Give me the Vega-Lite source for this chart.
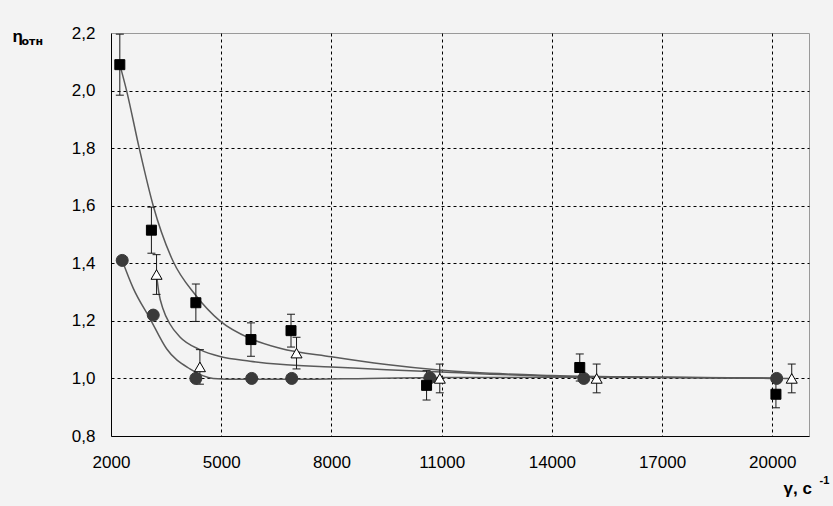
{
  "$schema": "https://vega.github.io/schema/vega-lite/v6.json",
  "width": 698,
  "height": 403,
  "autosize": {"type": "none"},
  "padding": {"left": 111, "top": 33, "right": 24, "bottom": 70},
  "background": "#f3f3f3",
  "config": {
    "view": {"stroke": "#999999", "strokeWidth": 1, "fill": "#f3f3f3"},
    "font": "Liberation Sans"
  },
  "datasets": {
    "curves": [
      {"s": "A", "g": 2240, "v": 2.09},
      {"s": "A", "g": 2424, "v": 2.0},
      {"s": "A", "g": 2768, "v": 1.8},
      {"s": "A", "g": 3149, "v": 1.6},
      {"s": "A", "g": 3693, "v": 1.406},
      {"s": "A", "g": 4300, "v": 1.29},
      {"s": "A", "g": 4965, "v": 1.2},
      {"s": "A", "g": 5800, "v": 1.138},
      {"s": "A", "g": 6600, "v": 1.105},
      {"s": "A", "g": 8000, "v": 1.075},
      {"s": "A", "g": 9500, "v": 1.048},
      {"s": "A", "g": 11000, "v": 1.028},
      {"s": "A", "g": 14000, "v": 1.01},
      {"s": "A", "g": 17000, "v": 1.004},
      {"s": "A", "g": 20100, "v": 1.001},
      {"s": "B", "g": 3240, "v": 1.36},
      {"s": "B", "g": 3300, "v": 1.3},
      {"s": "B", "g": 3420, "v": 1.24},
      {"s": "B", "g": 3600, "v": 1.19},
      {"s": "B", "g": 3876, "v": 1.144},
      {"s": "B", "g": 4420, "v": 1.1},
      {"s": "B", "g": 4967, "v": 1.076},
      {"s": "B", "g": 5785, "v": 1.06},
      {"s": "B", "g": 6600, "v": 1.049},
      {"s": "B", "g": 8000, "v": 1.04},
      {"s": "B", "g": 9500, "v": 1.03},
      {"s": "B", "g": 11000, "v": 1.022},
      {"s": "B", "g": 14000, "v": 1.008},
      {"s": "B", "g": 17000, "v": 1.004},
      {"s": "B", "g": 20530, "v": 1.0},
      {"s": "C", "g": 2305, "v": 1.41},
      {"s": "C", "g": 2607, "v": 1.313},
      {"s": "C", "g": 3061, "v": 1.208},
      {"s": "C", "g": 3513, "v": 1.103},
      {"s": "C", "g": 4148, "v": 1.033},
      {"s": "C", "g": 4783, "v": 1.0},
      {"s": "C", "g": 5500, "v": 0.997},
      {"s": "C", "g": 7000, "v": 0.997},
      {"s": "C", "g": 9000, "v": 1.0},
      {"s": "C", "g": 11000, "v": 1.003},
      {"s": "C", "g": 14000, "v": 1.004},
      {"s": "C", "g": 17000, "v": 1.003},
      {"s": "C", "g": 20120, "v": 1.0}
    ],
    "points": [
      {"s": "C", "g": 2305, "v": 1.41},
      {"s": "C", "g": 3150, "v": 1.22},
      {"s": "C", "g": 4310, "v": 1.0},
      {"s": "C", "g": 5830, "v": 1.0},
      {"s": "C", "g": 6920, "v": 1.0},
      {"s": "C", "g": 10680, "v": 1.002},
      {"s": "C", "g": 14870, "v": 1.0},
      {"s": "C", "g": 20120, "v": 1.0},
      {"s": "A", "g": 2240, "v": 2.09, "lo": 1.984, "hi": 2.196},
      {"s": "A", "g": 3100, "v": 1.515, "lo": 1.435, "hi": 1.595},
      {"s": "A", "g": 4310, "v": 1.263, "lo": 1.198, "hi": 1.328},
      {"s": "A", "g": 5810, "v": 1.135, "lo": 1.077, "hi": 1.193},
      {"s": "A", "g": 6900, "v": 1.166, "lo": 1.109, "hi": 1.223},
      {"s": "A", "g": 10590, "v": 0.976, "lo": 0.925, "hi": 1.027},
      {"s": "A", "g": 14760, "v": 1.038, "lo": 0.991, "hi": 1.085},
      {"s": "A", "g": 20100, "v": 0.945, "lo": 0.898, "hi": 0.992},
      {"s": "B", "g": 3240, "v": 1.361, "lo": 1.292, "hi": 1.43},
      {"s": "B", "g": 4420, "v": 1.04, "lo": 0.98, "hi": 1.1},
      {"s": "B", "g": 7050, "v": 1.088, "lo": 1.033, "hi": 1.143},
      {"s": "B", "g": 10950, "v": 1.0, "lo": 0.95, "hi": 1.05},
      {"s": "B", "g": 15220, "v": 1.0, "lo": 0.95, "hi": 1.05},
      {"s": "B", "g": 20530, "v": 1.0, "lo": 0.95, "hi": 1.05}
    ]
  },
  "layer": [
    {
      "data": {"name": "curves"},
      "mark": {"type": "line", "interpolate": "monotone", "stroke": "#5a5a5a", "strokeWidth": 1.5},
      "encoding": {
        "x": {
          "field": "g", "type": "quantitative",
          "scale": {"domain": [2000, 21000], "nice": false, "zero": false},
          "axis": {
            "orient": "bottom", "values": [5000, 8000, 11000, 14000, 17000, 20000],
            "grid": true, "gridColor": "#000000", "gridDash": [3, 3], "gridWidth": 1, "gridOpacity": 1,
            "labels": false, "ticks": false, "domain": false,
            "title": "γ, с", "titleX": 672, "titleY": 57, "titleAlign": "left", "titleBaseline": "alphabetic",
            "titleFontSize": 17, "titleFontWeight": "bold", "titleColor": "#000000", "titleFont": "Liberation Sans"
          }
        },
        "y": {
          "field": "v", "type": "quantitative",
          "scale": {"domain": [0.8, 2.2], "nice": false, "zero": false},
          "axis": {
            "orient": "left", "values": [1.0, 1.2, 1.4, 1.6, 1.8, 2.0],
            "grid": true, "gridColor": "#000000", "gridDash": [3, 3], "gridWidth": 1, "gridOpacity": 1,
            "labels": false, "ticks": false, "domain": false,
            "title": "η", "titleAngle": 0, "titleX": -99, "titleY": 8, "titleAlign": "left", "titleBaseline": "alphabetic",
            "titleFontSize": 17, "titleFontWeight": "bold", "titleColor": "#000000", "titleFont": "Liberation Sans"
          }
        },
        "detail": {"field": "s"}
      }
    },
    {
      "data": {"name": "points"},
      "mark": {"type": "rule", "color": "#1a1a1a", "strokeWidth": 1},
      "encoding": {
        "x": {"field": "g", "type": "quantitative", "scale": {"domain": [2000, 21000], "nice": false, "zero": false}, "axis": null},
        "y": {"field": "lo", "type": "quantitative", "scale": {"domain": [0.8, 2.2], "nice": false, "zero": false}, "axis": null},
        "y2": {"field": "hi"}
      }
    },
    {
      "data": {"name": "points"},
      "mark": {"type": "tick", "orient": "horizontal", "size": 8, "thickness": 1, "color": "#1a1a1a", "opacity": 1},
      "encoding": {
        "x": {"field": "g", "type": "quantitative", "scale": {"domain": [2000, 21000], "nice": false, "zero": false}, "axis": null},
        "y": {"field": "lo", "type": "quantitative", "scale": {"domain": [0.8, 2.2], "nice": false, "zero": false}, "axis": null}
      }
    },
    {
      "data": {"name": "points"},
      "mark": {"type": "tick", "orient": "horizontal", "size": 8, "thickness": 1, "color": "#1a1a1a", "opacity": 1},
      "encoding": {
        "x": {"field": "g", "type": "quantitative", "scale": {"domain": [2000, 21000], "nice": false, "zero": false}, "axis": null},
        "y": {"field": "hi", "type": "quantitative", "scale": {"domain": [0.8, 2.2], "nice": false, "zero": false}, "axis": null}
      }
    },
    {
      "data": {"name": "points"},
      "mark": {"type": "point", "filled": true, "strokeWidth": 1, "opacity": 1},
      "encoding": {
        "x": {
          "field": "g", "type": "quantitative",
          "scale": {"domain": [2000, 21000], "nice": false, "zero": false},
          "axis": {
            "orient": "bottom", "values": [2000, 5000, 8000, 11000, 14000, 17000, 20000],
            "format": "d",
            "grid": false, "ticks": false, "domain": true, "domainColor": "#000000", "domainWidth": 1,
            "labelFontSize": 17, "labelPadding": 18, "labelColor": "#000000", "labelFont": "Liberation Sans",
            "labelOverlap": false, "labelFlush": false,
            "title": "-1", "titleX": 708, "titleY": 47, "titleAlign": "left", "titleBaseline": "alphabetic",
            "titleFontSize": 11, "titleFontWeight": "bold", "titleColor": "#000000", "titleFont": "Liberation Sans"
          }
        },
        "y": {
          "field": "v", "type": "quantitative",
          "scale": {"domain": [0.8, 2.2], "nice": false, "zero": false},
          "axis": {
            "orient": "left", "values": [0.8, 1.0, 1.2, 1.4, 1.6, 1.8, 2.0, 2.2],
            "labelExpr": "replace(format(datum.value, '.1f'), '.', ',')",
            "grid": false, "ticks": false, "domain": true, "domainColor": "#000000", "domainWidth": 1,
            "labelFontSize": 17, "labelPadding": 16, "labelColor": "#000000", "labelFont": "Liberation Sans",
            "labelOverlap": false, "labelBaseline": "middle",
            "title": "отн", "titleAngle": 0, "titleX": -90, "titleY": 11, "titleAlign": "left", "titleBaseline": "alphabetic",
            "titleFontSize": 11, "titleFontWeight": "bold", "titleColor": "#000000", "titleFont": "DejaVu Sans"
          }
        },
        "shape": {"field": "s", "type": "nominal", "scale": {"domain": ["A", "B", "C"], "range": ["square", "triangle-up", "circle"]}, "legend": null},
        "fill": {"field": "s", "type": "nominal", "scale": {"domain": ["A", "B", "C"], "range": ["#000000", "#ffffff", "#3a3a3a"]}, "legend": null},
        "stroke": {"field": "s", "type": "nominal", "scale": {"domain": ["A", "B", "C"], "range": ["#000000", "#000000", "#3a3a3a"]}, "legend": null},
        "size": {"field": "s", "type": "nominal", "scale": {"domain": ["A", "B", "C"], "range": [100, 144, 75]}, "legend": null}
      }
    }
  ],
  "resolve": {"axis": {"x": "independent", "y": "independent"}}
}
